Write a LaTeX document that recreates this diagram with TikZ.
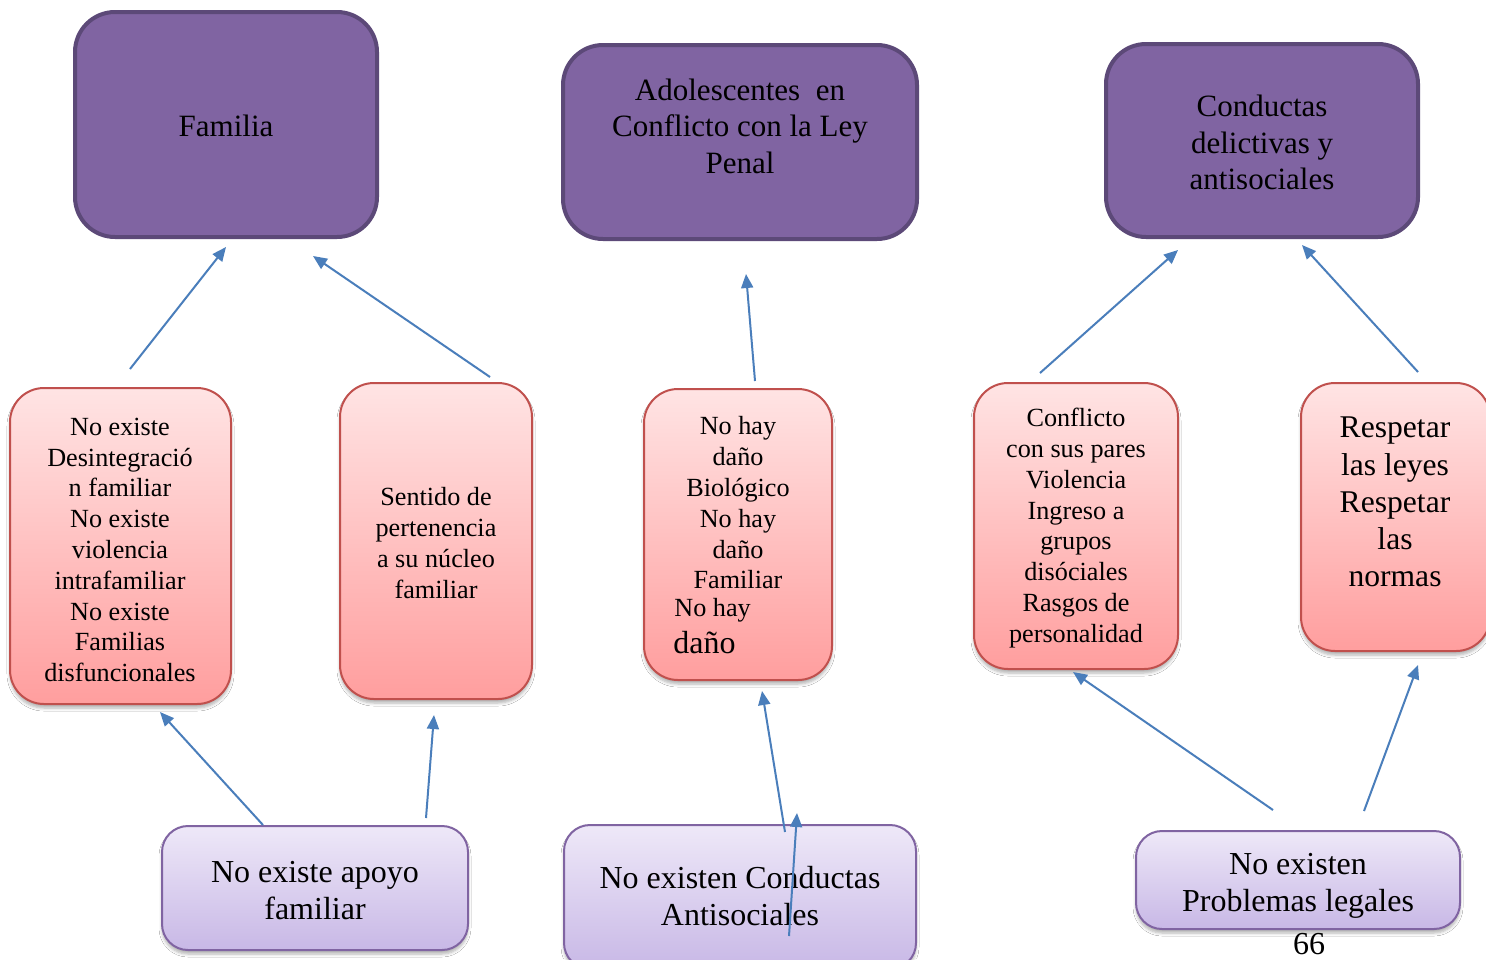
\documentclass[tikz,border=0pt]{standalone}
\usepackage{fontspec}
\setmainfont{Liberation Serif}
\usetikzlibrary{arrows.meta,shadows.blur}
\definecolor{topfill}{RGB}{128,100,162}
\definecolor{topdraw}{RGB}{92,73,120}
\definecolor{redtop}{RGB}{255,228,228}
\definecolor{redbot}{RGB}{255,158,158}
\definecolor{reddraw}{RGB}{192,80,77}
\definecolor{vtop}{RGB}{238,232,248}
\definecolor{vbot}{RGB}{200,184,230}
\definecolor{vdraw}{RGB}{128,100,162}
\definecolor{arr}{RGB}{74,126,187}
\tikzset{
  topbox/.style={draw=topdraw, line width=2pt, fill=topfill, rounded corners=20pt, inner sep=0pt},
  redbox/.style={draw=reddraw, line width=1pt, top color=redtop, bottom color=redbot, rounded corners=17pt, inner sep=0pt,
     blur shadow={shadow xshift=0pt, shadow yshift=-2pt, shadow blur radius=1.5pt, shadow blur steps=5, shadow opacity=30}},
  botbox/.style={draw=vdraw, line width=1pt, top color=vtop, bottom color=vbot, rounded corners=13pt, inner sep=0pt,
     blur shadow={shadow xshift=0pt, shadow yshift=-2pt, shadow blur radius=1.5pt, shadow blur steps=5, shadow opacity=30}},
  toptext/.style={align=center, font=\fontsize{15.5}{18.2}\selectfont, inner sep=0pt},
  redtext/.style={align=center, font=\fontsize{13.1}{15.4}\selectfont, inner sep=0pt},
  bigtext/.style={align=center, font=\fontsize{16}{18.5}\selectfont, inner sep=0pt},
  conn/.style={draw=arr, line width=1pt, -{Triangle[length=7pt,width=6pt]}}
}
\begin{document}
\begin{tikzpicture}[x=0.5pt,y=-0.5pt]
\useasboundingbox (0,0) rectangle (1486,959);
\clip (0,0) rectangle (1486,959);
\fill[white] (0,0) rectangle (1486,959);

% top boxes
\node[topbox, minimum width=151pt, minimum height=112.5pt] (fam) at (226,124.5) {};
\node[topbox, minimum width=177pt, minimum height=97pt] (ado) at (740,142) {};
\node[topbox, minimum width=156pt, minimum height=96.5pt] (con) at (1262,140.5) {};
\node[toptext] (famt) at (226,126) {Familia};
\node[toptext] (adot) at (740,126) {Adolescentes\ \ en\\Conflicto con la Ley\\Penal};
\node[toptext] (cont) at (1262,142.5) {Conductas\\delictivas y\\antisociales};

% red boxes
\node[redbox, minimum width=110.5pt, minimum height=158pt] (r1) at (120.5,546) {};
\node[redbox, minimum width=96pt, minimum height=158pt] (r2) at (436,541) {};
\node[redbox, minimum width=94pt, minimum height=145.5pt] (r3) at (738,534.5) {};
\node[redbox, minimum width=102pt, minimum height=143pt] (r4) at (1076,526) {};
\node[redbox, minimum width=94.5pt, minimum height=134pt] (r5) at (1395.5,517) {};

\node[redtext] (r1t) at (120,550) {No existe\\Desintegració\\n familiar\\No existe\\violencia\\intrafamiliar\\No existe\\Familias\\disfuncionales};
\node[redtext] (r2t) at (436,543) {Sentido de\\pertenencia\\a su núcleo\\familiar};
\node[redtext] (r3t) at (738,503) {No hay\\daño\\Biológico\\No hay\\daño\\Familiar};
\node[redtext, anchor=west] (r3u) at (674,610) {No hay};
\node[anchor=west, inner sep=0pt, font=\fontsize{16}{19}\selectfont] (r3v) at (673,643) {daño};
\node[redtext] (r4t) at (1076,528) {Conflicto\\con sus pares\\Violencia\\Ingreso a\\grupos\\disóciales\\Rasgos de\\personalidad};
\node[bigtext, font=\fontsize{15.8}{18.6}\selectfont] (r5t) at (1395,502) {Respetar\\las leyes\\Respetar\\las\\normas};

% bottom boxes
\node[botbox, minimum width=153pt, minimum height=62pt] (b1) at (315,888) {};
\node[botbox, minimum width=176pt, minimum height=72pt] (b2) at (740,897) {};
\node[botbox, minimum width=162pt, minimum height=49pt] (b3) at (1298,880) {};
\node[bigtext] (b1t) at (315,891) {No existe apoyo\\familiar};
\node[bigtext] (b2t) at (740,896) {No existen Conductas\\Antisociales};
\node[bigtext] (b3t) at (1298,886) {No existen\\Problemas legales};
\node[bigtext, anchor=south] (pg) at (1309,955) {66};

% arrow end points
\coordinate (a1s) at (130,369);  \coordinate (a1e) at (226,247);
\coordinate (a2s) at (490,377);  \coordinate (a2e) at (313,256);
\coordinate (a3s) at (755,381);  \coordinate (a3e) at (746,274);
\coordinate (a4s) at (1040,373); \coordinate (a4e) at (1178,250);
\coordinate (a5s) at (1418,372); \coordinate (a5e) at (1302,245);
\coordinate (a6s) at (263,825);  \coordinate (a6e) at (160,712);
\coordinate (a7s) at (426,818);  \coordinate (a7e) at (434,715);
\coordinate (a8s) at (785,832);  \coordinate (a8e) at (762,691);
\coordinate (a9s) at (789,936);  \coordinate (a9e) at (797,813);
\coordinate (a10s) at (1273,810); \coordinate (a10e) at (1073,672);
\coordinate (a11s) at (1364,811); \coordinate (a11e) at (1418,665);

\foreach \i in {1,...,11} { \draw[conn] (a\i s) -- (a\i e); }
\end{tikzpicture}
\end{document}
